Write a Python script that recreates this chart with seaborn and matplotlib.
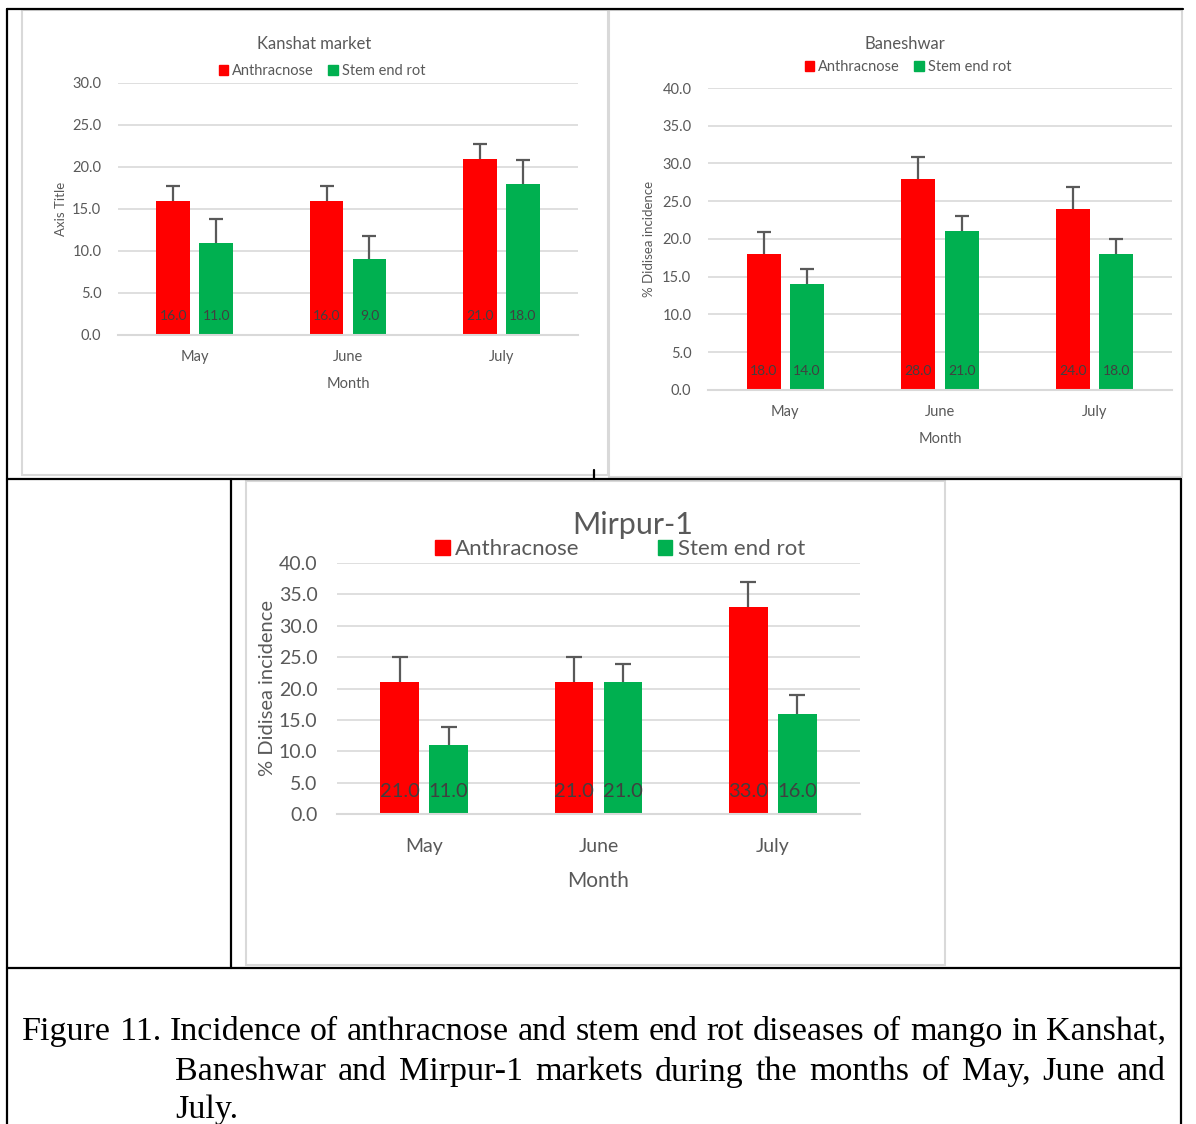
import numpy as np
import pandas as pd
import matplotlib
matplotlib.use('Agg')
from matplotlib import pyplot as plt
from matplotlib.lines import Line2D
from matplotlib.patches import Rectangle
import seaborn as sns

months = ['May', 'June', 'July']
diseases = ['Anthracnose', 'Stem end rot']

kanshat_anth = [16.0, 16.0, 21.0]
kanshat_stem = [11.0, 9.0, 18.0]
kanshat_anth_err = [1.7, 1.7, 1.7]
kanshat_stem_err = [2.8, 2.8, 2.8]

banesh_anth = [18.0, 28.0, 24.0]
banesh_stem = [14.0, 21.0, 18.0]
banesh_anth_err = [2.9, 2.9, 2.9]
banesh_stem_err = [2.0, 2.0, 2.0]

mirpur_anth = [21.0, 21.0, 33.0]
mirpur_stem = [11.0, 21.0, 16.0]
mirpur_anth_err = [4.0, 4.0, 4.0]
mirpur_stem_err = [2.9, 2.9, 2.9]

caption = ['Figure 11. Incidence of anthracnose and stem end rot diseases of mango in Kanshat,',
           'Baneshwar and Mirpur-1 markets during the months of May, June and',
           'July.']

RED = '#FF0000'
GREEN = '#00B050'
GRID = '#D9D9D9'
TXT = '#595959'

W, H = 1196, 1124
sns.set_theme(style='white')
plt.rcParams['font.family'] = ['Lato', 'DejaVu Sans']

fig = plt.figure(figsize=(W / 100, H / 100), dpi=100)


def fx(px):
    return px / W


def fy(py):
    return 1 - py / H


def panel(box, plot, anth, stem, anth_err, stem_err, ymax, title, ylabel,
          title_xy, legend_xy, fs):
    # light grey chart frame
    x0, y0, x1, y1 = box
    fig.add_artist(Rectangle((fx(x0), fy(y1)), fx(x1) - fx(x0), fy(y0) - fy(y1),
                             transform=fig.transFigure, fill=False,
                             edgecolor=GRID, lw=1.5))
    l, t, r, b = plot
    ax = fig.add_axes([fx(l), fy(b), fx(r) - fx(l), fy(t) - fy(b)])
    df = pd.DataFrame({'Month': months * 2,
                       'value': anth + stem,
                       'disease': [diseases[0]] * 3 + [diseases[1]] * 3})
    sns.barplot(data=df, x='Month', y='value', hue='disease',
                palette=[RED, GREEN], saturation=1, width=0.56, gap=0.21,
                linewidth=0, ax=ax, legend=False)
    for cont, err in zip(ax.containers, [anth_err, stem_err]):
        xs = [p.get_x() + p.get_width() / 2 for p in cont.patches]
        hs = [p.get_height() for p in cont.patches]
        _, caps, _ = ax.errorbar(xs, hs, yerr=[np.zeros(3), err], fmt='none',
                                 ecolor=TXT, elinewidth=1.6, capsize=fs['cap'],
                                 capthick=1.6)
        caps[0].set_visible(False)
        for x, h in zip(xs, hs):
            ax.annotate(f'{h:.1f}', (x, 0), xytext=(0, fs['lab_off']),
                        textcoords='offset points', ha='center', va='bottom',
                        fontsize=fs['lab'], color='#404040')
    ax.set_xlim(-0.5, 2.5)
    ax.set_ylim(0, ymax)
    ax.set_yticks(np.arange(0, ymax + 0.1, 5))
    ax.set_yticklabels([f'{v:.1f}' for v in np.arange(0, ymax + 0.1, 5)])
    ax.yaxis.grid(True, color=GRID, lw=1.2)
    ax.set_axisbelow(True)
    for s in ['top', 'left', 'right']:
        ax.spines[s].set_visible(False)
    ax.spines['bottom'].set_color(GRID)
    ax.spines['bottom'].set_linewidth(1.5)
    ax.tick_params(length=0, labelsize=fs['tick'], colors=TXT)
    ax.tick_params(axis='y', pad=fs['ypad'])
    ax.tick_params(axis='x', pad=fs['xpad'])
    ax.set_xlabel('Month', fontsize=fs['lbl'], color=TXT, labelpad=fs['xlpad'])
    ax.set_ylabel(ylabel, fontsize=fs['ylbl'], color=TXT, labelpad=fs['ylpad'])
    ax.set_facecolor('none')
    fig.text(fx(title_xy[0]), fy(title_xy[1]), title, ha='center', va='center',
             fontsize=fs['title'], color=TXT)
    handles = [Rectangle((0, 0), 1, 1, color=RED), Rectangle((0, 0), 1, 1, color=GREEN)]
    leg = fig.legend(handles, diseases, loc='center',
                     bbox_to_anchor=(fx(legend_xy[0]), fy(legend_xy[1])),
                     ncol=2, frameon=False, fontsize=fs['leg'],
                     handlelength=0.65, handleheight=0.65, handletextpad=0.25,
                     columnspacing=fs['colsp'])
    for txt in leg.get_texts():
        txt.set_color(TXT)
    return ax


small = dict(cap=5, lab=10, lab_off=9, tick=10.5, ypad=12, xpad=11, lbl=10.5,
             ylbl=9.5, xlpad=9, ylpad=4, title=12, leg=10.5, colsp=1.0)
big = dict(cap=6, lab=14.5, lab_off=10, tick=14, ypad=14, xpad=17, lbl=15,
           ylbl=14.5, xlpad=12, ylpad=2, title=22, leg=16, colsp=3.5)

panel((22, 10, 608, 475), (118, 83, 578, 335), kanshat_anth, kanshat_stem,
      kanshat_anth_err, kanshat_stem_err, 30, 'Kanshat market', 'Axis Title',
      (314, 44), (322, 71), small)
small_b = dict(small, ylpad=5)
panel((609, 10, 1182, 477), (708, 88, 1172, 390), banesh_anth, banesh_stem,
      banesh_anth_err, banesh_stem_err, 40, 'Baneshwar', '% Didisea incidence',
      (905, 44), (908, 67), small_b)
panel((246, 481, 945, 965), (337, 563, 860, 814), mirpur_anth, mirpur_stem,
      mirpur_anth_err, mirpur_stem_err, 40, 'Mirpur-1', '% Didisea incidence',
      (633, 525), (620, 549), big)

# table borders
for (xa, ya, xb, yb) in [(7, 9, 1183, 9), (7, 9, 7, 1124), (1181, 479, 1181, 1124),
                         (7, 479, 1181, 479), (231, 479, 231, 968),
                         (7, 968, 1181, 968), (594, 470, 594, 479)]:
    fig.add_artist(Line2D([fx(xa), fx(xb)], [fy(ya), fy(yb)],
                          transform=fig.transFigure, color='black', lw=1.6))

# caption, first two lines justified between left edge and 1166 px
cap_font = ['Liberation Serif', 'DejaVu Serif']
cap_size = 24.5
renderer = fig.canvas.get_renderer()


def justified(line, left, right, ypix):
    words = line.split(' ')
    arts = [fig.text(0, fy(ypix), w, ha='left', va='center', fontsize=cap_size,
                     family=cap_font, color='black') for w in words]
    widths = [a.get_window_extent(renderer).width for a in arts]
    space = (right - left - sum(widths)) / (len(words) - 1)
    x = left
    for a, w in zip(arts, widths):
        a.set_x(fx(x))
        x += w + space


justified(caption[0], 22, 1166, 1032)
justified(caption[1], 175, 1166, 1072)
fig.text(fx(175), fy(1110), caption[2], ha='left', va='center', fontsize=cap_size,
         family=cap_font, color='black')

fig.savefig('out.png', dpi=100, facecolor='white')
